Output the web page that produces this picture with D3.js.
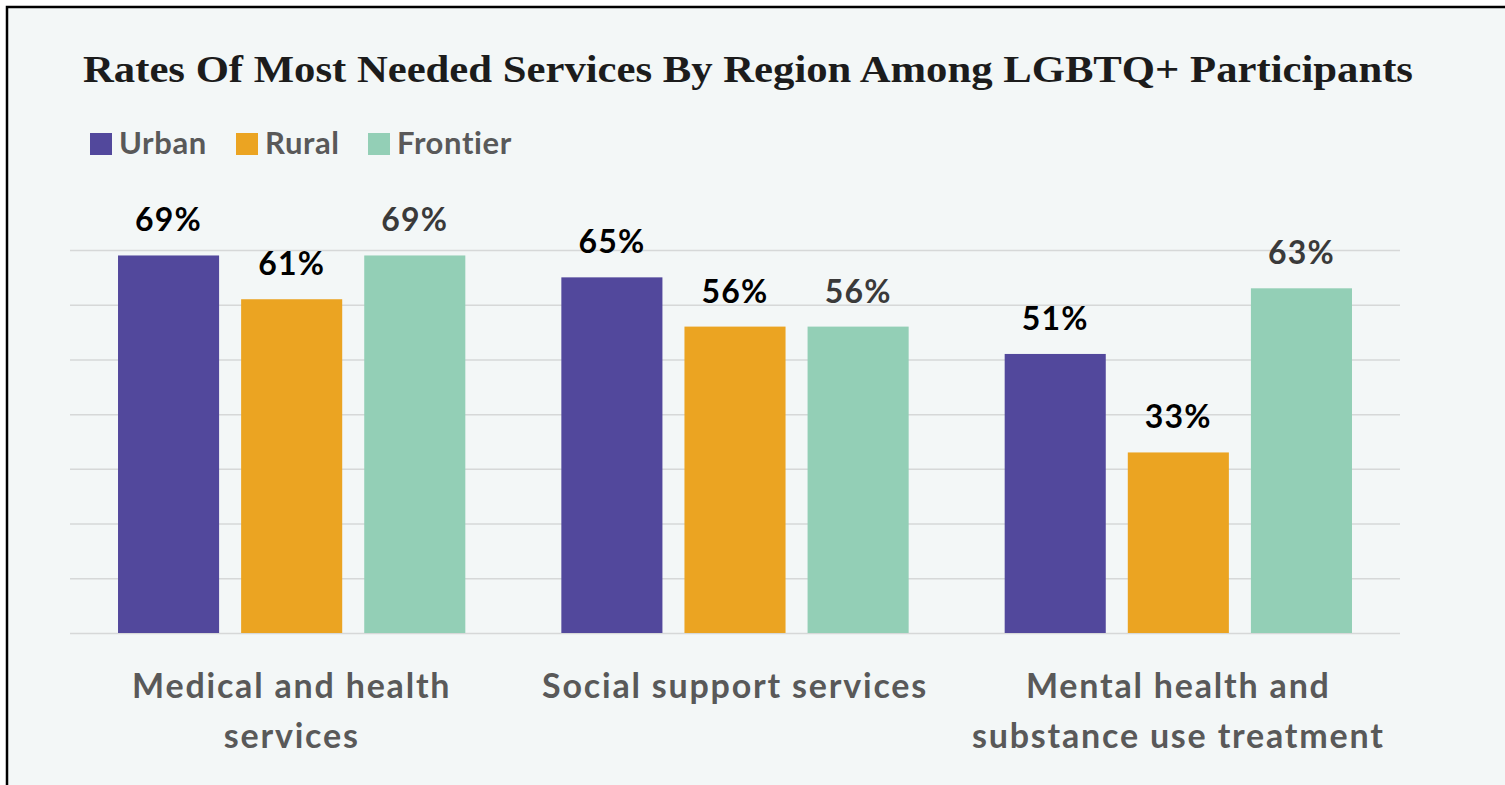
<!DOCTYPE html>
<html>
<head>
<meta charset="UTF-8">
<style>
  body { margin: 0; background: #fff; }
  svg { display: block; }
</style>
</head>
<body>
<svg width="1505" height="785"></svg>
<script src="https://cdn.jsdelivr.net/npm/d3@7/dist/d3.min.js"></script>
<script>

var categories = ["Medical and health services", "Social support services", "Mental health and substance use treatment"];
var categoryLines = [["Medical and health", "services"], ["Social support services"], ["Mental health and", "substance use treatment"]];
var seriesNames = ["Urban", "Rural", "Frontier"];
var urban = [69, 65, 51];
var rural = [61, 56, 33];
var frontier = [69, 56, 63];
var yTicks = [0, 10, 20, 30, 40, 50, 60, 70];
var title = "Rates Of Most Needed Services By Region Among LGBTQ+ Participants";

var colors = {Urban: "#52489c", Rural: "#eba422", Frontier: "#93cfb6"};
var labelColors = {Urban: "#000", Rural: "#000", Frontier: "#3a3a3a"};

var rows = categories.map(function(c, i) {
  return {cat: c, Urban: urban[i], Rural: rural[i], Frontier: frontier[i]};
});

var svg = d3.select("svg"),
  margin = {top: 250, right: 105, left: 70},
  width = +svg.attr("width") - margin.left - margin.right,
  height = 383; // baseline at y=633

// frame + background
svg.append("rect")
  .attr("x", 7).attr("y", 7)
  .attr("width", 1520).attr("height", 800)
  .attr("fill", "#f3f7f7")
  .attr("stroke", "#000")
  .attr("stroke-width", 2.5);

svg.append("text")
  .attr("x", 83).attr("y", 82)
  .attr("font-family", "Liberation Serif, serif")
  .attr("font-weight", "bold")
  .attr("font-size", 37)
  .attr("fill", "#1c1c1c")
  .attr("textLength", 1330)
  .attr("lengthAdjust", "spacingAndGlyphs")
  .text(title);

var g = svg.append("g").attr("transform", "translate(" + margin.left + "," + margin.top + ")");

var x0 = d3.scaleBand().domain(categories).range([0, width]).padding(0);
var x1 = d3.scaleBand().domain(seriesNames).range([0, x0.bandwidth()])
  .paddingInner(0.179).paddingOuter(0.39);
var y = d3.scaleLinear().domain([0, 70]).range([height, 0]);

// gridlines
var grid = g.append("g")
  .call(d3.axisLeft(y).tickValues(yTicks).tickSize(-width).tickFormat(""));
grid.select(".domain").remove();
grid.selectAll(".tick line").attr("stroke", "#d6d8d8").attr("stroke-width", 1.5);

// bars
var groups = g.selectAll(".grp")
  .data(rows)
  .enter().append("g")
  .attr("class", "grp")
  .attr("transform", function(d) { return "translate(" + x0(d.cat) + ",0)"; });

groups.selectAll("rect")
  .data(function(d) { return seriesNames.map(function(k) { return {key: k, value: d[k]}; }); })
  .enter().append("rect")
  .attr("x", function(d) { return x1(d.key); })
  .attr("y", function(d) { return y(d.value); })
  .attr("width", x1.bandwidth())
  .attr("height", function(d) { return height - y(d.value); })
  .attr("fill", function(d) { return colors[d.key]; });

groups.selectAll(".val")
  .data(function(d) { return seriesNames.map(function(k) { return {key: k, value: d[k]}; }); })
  .enter().append("text")
  .attr("class", "val")
  .attr("x", function(d) { return x1(d.key) + x1.bandwidth() / 2; })
  .attr("y", function(d) { return y(d.value) - 24; })
  .attr("text-anchor", "middle")
  .attr("font-family", "Lato, sans-serif")
  .attr("font-weight", "bold")
  .attr("font-size", 32)
  .attr("letter-spacing", 1.2)
  .attr("fill", function(d) { return labelColors[d.key]; })
  .text(function(d) { return d.value + "%"; });

// category axis
var xAxis = g.append("g")
  .attr("transform", "translate(0," + height + ")")
  .call(d3.axisBottom(x0).tickSize(0).tickFormat(""));
xAxis.select(".domain").remove();
xAxis.selectAll(".tick").each(function(d, i) {
  var t = d3.select(this).append("text")
    .attr("text-anchor", "middle")
    .attr("font-family", "Lato, sans-serif")
    .attr("font-weight", "bold")
    .attr("font-size", 34)
    .attr("letter-spacing", 1.8)
    .attr("fill", "#595959");
  categoryLines[i].forEach(function(line, j) {
    t.append("tspan").attr("x", 0).attr("y", 65 + j * 50).text(line);
  });
});

// legend
var legendX = [90, 236, 368];
var legend = svg.append("g");
seriesNames.forEach(function(s, i) {
  legend.append("rect")
    .attr("x", legendX[i]).attr("y", 133)
    .attr("width", 22).attr("height", 22)
    .attr("fill", colors[s]);
  legend.append("text")
    .attr("x", legendX[i] + 29).attr("y", 154)
    .attr("font-family", "Lato, sans-serif")
    .attr("font-weight", "bold")
    .attr("font-size", 31)
    .attr("letter-spacing", 0.6)
    .attr("fill", "#595959")
    .text(s);
});

</script>
</body>
</html>
